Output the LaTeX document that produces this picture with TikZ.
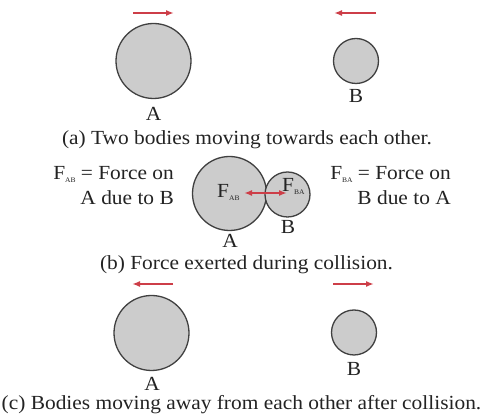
\documentclass[tikz,border=0pt]{standalone}
\usepackage{fontspec}
\setmainfont[FakeStretch=1.07]{Liberation Serif}
\usetikzlibrary{arrows.meta}
\definecolor{ballfill}{RGB}{204,204,204}
\definecolor{balldraw}{RGB}{64,64,64}
\definecolor{arrowred}{RGB}{205,62,72}
\definecolor{txt}{RGB}{35,35,35}
\newcommand{\subs}[1]{\raisebox{-0.3ex}{\fontsize{7}{7}\selectfont #1}}
\tikzset{
  ball/.style={circle, draw=balldraw, fill=ballfill, line width=1.3pt, inner sep=0pt},
  lbl/.style={anchor=base, text=txt, font=\fontsize{20}{20}\selectfont, inner sep=0pt},
  captext/.style={anchor=base, text=txt, font=\fontsize{20}{20}\selectfont, inner sep=0pt},
  motion/.style={draw=arrowred, line width=1.8pt, -{Latex[length=8pt,width=6pt]}},
  force/.style={draw=arrowred, line width=1.8pt, {Latex[length=8pt,width=6pt]}-{Latex[length=8pt,width=6pt]}},
}
\begin{document}
\begin{tikzpicture}[x=1pt,y=-1pt]
\useasboundingbox (0,0) rectangle (483,419);
\fill[white] (0,0) rectangle (483,419);
% (a)
\node[ball, minimum size=75pt] (A1) at (153.5,61) {};
\node[ball, minimum size=45pt] (B1) at (356,61) {};
\node[lbl] (lA1) at (153.5,121) {A};
\node[lbl] (lB1) at (356,103) {B};
\coordinate (a1s) at (133,13); \coordinate (a1e) at (174,13);
\coordinate (b1s) at (376,13); \coordinate (b1e) at (334,13);
\draw[motion] (a1s) -- (a1e);
\draw[motion] (b1s) -- (b1e);
\node[captext] (capa) at (247,145) {(a) Two bodies moving towards each other.};
% (b)
\node[ball, minimum size=74pt] (A2) at (229.5,193.5) {};
\node[ball, minimum size=45pt] (B2) at (287.5,194.5) {};
\node[lbl] (lA2) at (230,248) {A};
\node[lbl] (lB2) at (288,234) {B};
\coordinate (f1) at (244,193); \coordinate (f2) at (287,193);
\draw[force] (f1) -- (f2);
\node[lbl, anchor=base west] (fab) at (217,198) {F\subs{AB}};
\node[lbl, anchor=base west] (fba) at (282,192) {F\subs{BA}};
\node[lbl, anchor=base east] (l1) at (174,180) {F\subs{AB} = Force on};
\node[lbl, anchor=base east] (l2) at (174,205) {A due to B};
\node[lbl, anchor=base east] (r1) at (451,180) {F\subs{BA} = Force on};
\node[lbl, anchor=base east] (r2) at (451,205) {B due to A};
\node[captext] (capb) at (246.5,270) {(b) Force exerted during collision.};
% (c)
\node[ball, minimum size=75pt] (A3) at (151.5,333) {};
\node[ball, minimum size=45pt] (B3) at (354,332.5) {};
\node[lbl] (lA3) at (152,391) {A};
\node[lbl] (lB3) at (354,376) {B};
\coordinate (a3s) at (173,284); \coordinate (a3e) at (132,284);
\coordinate (b3s) at (333,284); \coordinate (b3e) at (374,284);
\draw[motion] (a3s) -- (a3e);
\draw[motion] (b3s) -- (b3e);
\node[captext] (capc) at (241.5,410) {(c) Bodies moving away from each other after collision.};
\end{tikzpicture}
\end{document}
